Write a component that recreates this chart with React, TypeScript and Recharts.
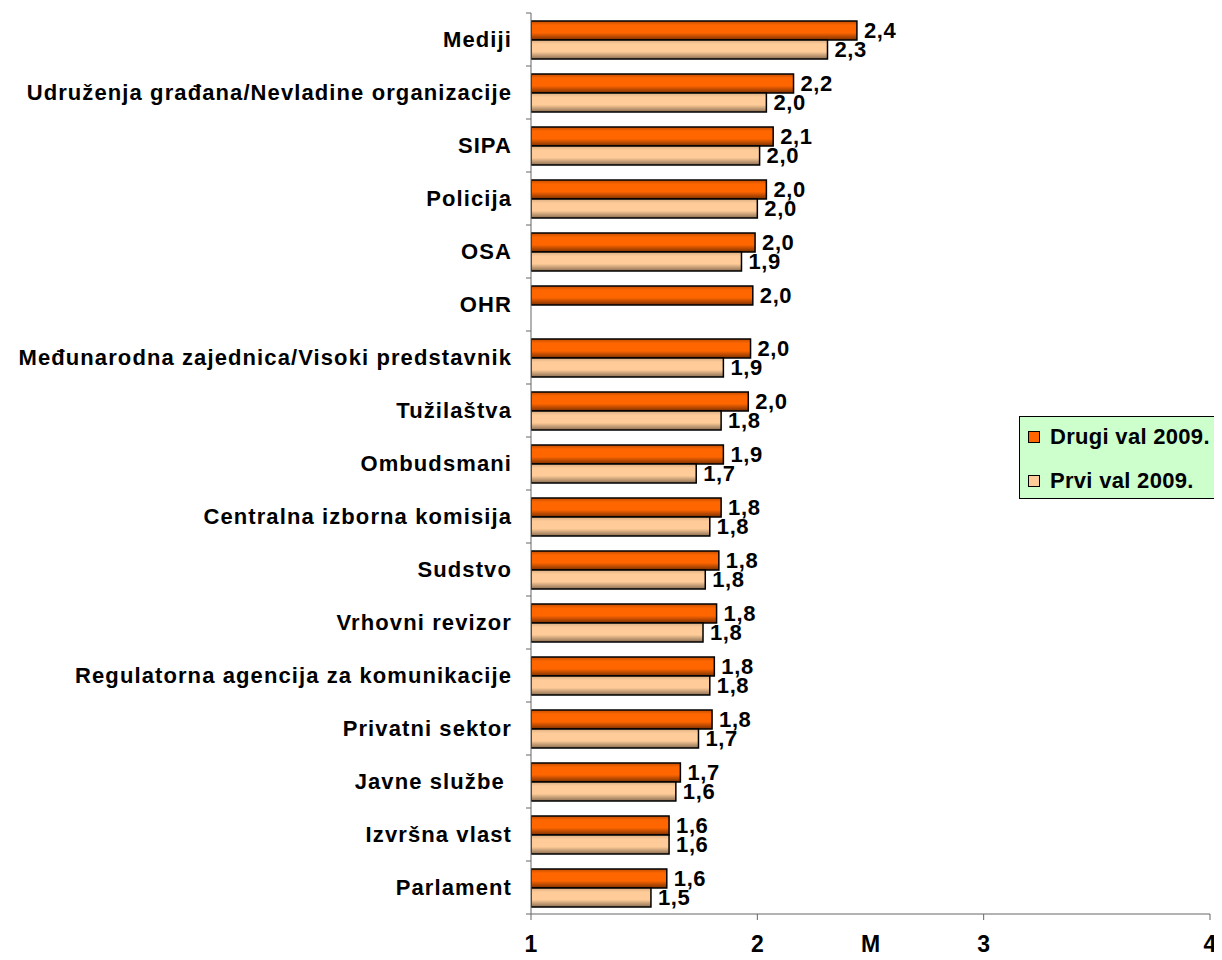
import React from 'react';
import { BarChart, Bar, XAxis, YAxis, Legend, LabelList, Label } from 'recharts';

const categories = [
  'Mediji',
  'Udruženja građana/Nevladine organizacije',
  'SIPA',
  'Policija',
  'OSA',
  'OHR',
  'Međunarodna zajednica/Visoki predstavnik',
  'Tužilaštva',
  'Ombudsmani',
  'Centralna izborna komisija',
  'Sudstvo',
  'Vrhovni revizor',
  'Regulatorna agencija za komunikacije',
  'Privatni sektor',
  'Javne službe ',
  'Izvršna vlast',
  'Parlament',
];

const drugiVal = [2.44, 2.16, 2.07, 2.04, 1.99, 1.98, 1.97, 1.96, 1.85, 1.84, 1.83, 1.82, 1.81, 1.8, 1.66, 1.61, 1.6];
const prviVal = [2.31, 2.04, 2.01, 2.0, 1.93, null, 1.85, 1.84, 1.73, 1.79, 1.77, 1.76, 1.79, 1.74, 1.64, 1.61, 1.53];

const xTicks = [1, 2, 3, 4];
const xDomain = [1, 4];
const xTitle = 'M';

const seriesNames = { drugi: 'Drugi val 2009.', prvi: 'Prvi val 2009.' };
const seriesColors = { drugi: '#FF6600', prvi: '#FFCC99' };

const data = categories.map((name, i) => ({ name, drugi: drugiVal[i], prvi: prviVal[i] }));

const FONT = '"Liberation Sans", Arial, Helvetica, sans-serif';
const AXIS_COLOR = '#666';

const fmt = (v: number) => v.toFixed(1).replace('.', ',');

const CategoryTick = (props: any) => {
  const { x, y, payload, index, visibleTicksCount } = props;
  const half = payload && typeof payload.offset === 'number' && payload.offset > 0 ? payload.offset : 26.5;
  const ax = x + 19;
  return (
    <g>
      <line x1={ax - 5} x2={ax} y1={y - half} y2={y - half} stroke={AXIS_COLOR} strokeWidth={1} />
      {index === visibleTicksCount - 1 && (
        <line x1={ax - 5} x2={ax} y1={y + half} y2={y + half} stroke={AXIS_COLOR} strokeWidth={1} />
      )}
      <text
        x={x}
        y={y}
        dy="0.36em"
        textAnchor="end"
        fontFamily={FONT}
        fontSize={22}
        fontWeight="bold"
        letterSpacing={1.1}
        fill="#000"
        style={{ whiteSpace: 'pre' }}
      >
        {payload.value}
      </text>
    </g>
  );
};

const ValueLabel = (props: any) => {
  const { x, y, width, height, value } = props;
  if (value === null || value === undefined) return null;
  return (
    <text
      x={x + width + 7}
      y={y + height / 2}
      dy="0.36em"
      textAnchor="start"
      fontFamily={FONT}
      fontSize={22}
      fontWeight="bold"
      letterSpacing={0.6}
      fill="#000"
    >
      {fmt(Number(value))}
    </text>
  );
};

const renderLegend = (props: any) => {
  const payload = (props && props.payload) || [];
  const keys = payload.length ? payload.map((p: any) => p.dataKey) : ['drugi', 'prvi'];
  return (
    <div
      style={{
        position: 'relative',
        boxSizing: 'border-box',
        width: 203,
        height: 83,
        background: '#CCFFCC',
        border: '1px solid #000',
        fontFamily: FONT,
      }}
    >
      {keys.map((k: string, i: number) => (
        <div key={k} style={{ position: 'absolute', left: 8, top: 8 + i * 44, height: 24, display: 'flex', alignItems: 'center' }}>
          <div
            style={{
              width: 12,
              height: 12,
              boxSizing: 'border-box',
              background: (seriesColors as any)[k],
              border: '1.5px solid #000',
              marginRight: 10,
            }}
          />
          <span style={{ fontSize: 22, fontWeight: 'bold', color: '#000', letterSpacing: 0.3, whiteSpace: 'nowrap' }}>
            {(seriesNames as any)[k]}
          </span>
        </div>
      ))}
    </div>
  );
};

export default function App() {
  return (
    <div style={{ width: 1214, height: 952, marginBottom: -8 }}>
      <BarChart
        width={1214}
        height={952}
        data={data}
        layout="vertical"
        margin={{ top: 5, right: 12, bottom: 0, left: 0 }}
        barGap={0}
        barSize={19}
      >
        <defs>
          <linearGradient id="gradDrugi" x1="0" y1="0" x2="0" y2="1">
            <stop offset="0%" stopColor="#C24E00" />
            <stop offset="22%" stopColor="#FF6600" />
            <stop offset="62%" stopColor="#FF6600" />
            <stop offset="100%" stopColor="#7A3000" />
          </linearGradient>
          <linearGradient id="gradPrvi" x1="0" y1="0" x2="0" y2="1">
            <stop offset="0%" stopColor="#D9AD82" />
            <stop offset="22%" stopColor="#FFCC99" />
            <stop offset="62%" stopColor="#FFCC99" />
            <stop offset="100%" stopColor="#8A6E52" />
          </linearGradient>
        </defs>
        <XAxis
          type="number"
          domain={xDomain}
          ticks={xTicks}
          allowDataOverflow
          height={46}
          tickSize={6}
          tickMargin={16}
          stroke={AXIS_COLOR}
          tickLine={{ stroke: AXIS_COLOR }}
          axisLine={{ stroke: AXIS_COLOR }}
          tick={{ fill: '#000', fontSize: 23, fontWeight: 'bold', fontFamily: FONT }}
        >
          <Label
            value={xTitle}
            position="insideBottom"
            offset={8}
            style={{ fill: '#000', fontSize: 23, fontWeight: 'bold', fontFamily: FONT }}
          />
        </XAxis>
        <YAxis
          type="category"
          dataKey="name"
          width={523}
          tickSize={5}
          tickMargin={14}
          tickLine={false}
          axisLine={{ stroke: AXIS_COLOR }}
          interval={0}
          tick={<CategoryTick />}
        />
        <Legend
          layout="horizontal"
          verticalAlign="middle"
          align="center"
          wrapperStyle={{ left: 1011, top: 408, width: 203 }}
          content={renderLegend}
        />
        <Bar
          dataKey="drugi"
          name={seriesNames.drugi}
          fill="url(#gradDrugi)"
          stroke="#000"
          strokeWidth={1.5}
          isAnimationActive={false}
        >
          <LabelList dataKey="drugi" content={<ValueLabel />} />
        </Bar>
        <Bar
          dataKey="prvi"
          name={seriesNames.prvi}
          fill="url(#gradPrvi)"
          stroke="#000"
          strokeWidth={1.5}
          isAnimationActive={false}
        >
          <LabelList dataKey="prvi" content={<ValueLabel />} />
        </Bar>
      </BarChart>
    </div>
  );
}
